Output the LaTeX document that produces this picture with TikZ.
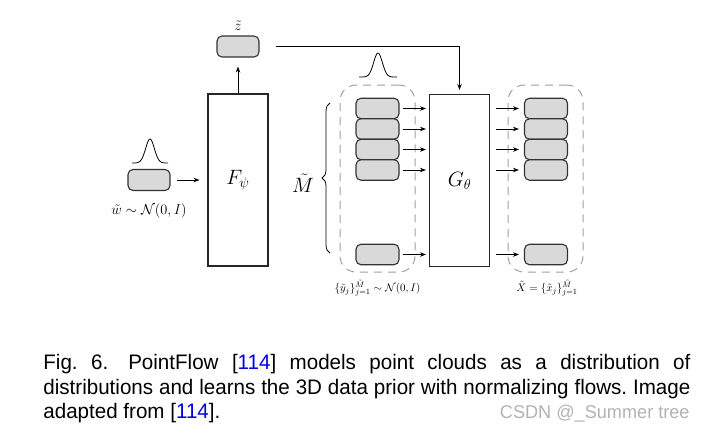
\documentclass[tikz,border=0pt]{standalone}
\usepackage{amsmath,amssymb}
\usepackage{fontspec}
\newfontfamily\capfont[FakeStretch=0.98]{Liberation Sans}
\usetikzlibrary{decorations.pathreplacing,positioning,arrows.meta}
\definecolor{cellgray}{gray}{0.85}
\definecolor{citeblue}{rgb}{0,0,0.9}
\frenchspacing

\tikzset{
  cell/.style={draw=black!80, fill=cellgray, line width=1.1pt, rounded corners=5pt,
    minimum width=43pt, minimum height=20.5pt, inner sep=0pt},
  netbox/.style={draw=black!85, line width=1.1pt, minimum width=60pt,
    minimum height=172pt, inner sep=0pt, font=\fontsize{20.5}{24}\selectfont},
  bag/.style={draw=gray!75, line width=1pt, dash pattern=on 8pt off 6pt,
    rounded corners=16pt, minimum width=75pt, minimum height=187pt},
  captext/.style={anchor=base west, inner sep=0pt, font=\capfont\fontsize{21}{24.5}\selectfont},
}

\begin{document}
\begin{tikzpicture}[>={Stealth[length=6pt,width=4.5pt]}, line width=0.8pt, x=1pt, y=-1pt]
  \useasboundingbox (0,0) rectangle (705,434);

  % networks
  \node[netbox] (F) at (238,180) {$F_\psi$};
  \node[netbox] (G) at (459.5,180.5) {$G_\theta$};

  % shape latent and its prior
  \node[cell, minimum width=42pt, minimum height=21pt] (wbox) at (149,180) {};
  \node[font=\fontsize{15.5}{17}\selectfont] (wlabel) at (149,211) {$\tilde w\sim\mathcal N(0,I)$};
  \draw plot[domain=-18:18, samples=61, smooth]
    ({150+\x},{163-24*exp(-(\x*\x)/38)});
  \draw[->, shorten <=6pt, shorten >=8pt] (wbox.east) -- (F.west);

  % transformed latent
  \node[cell, minimum width=42pt, minimum height=21pt] (zbox) at (238,46.5) {};
  \node[font=\fontsize{15}{17}\selectfont] (zlabel) at (238,26) {$\tilde z$};
  \draw[->, shorten >=9pt] (F.north) -- (zbox.south);
  \draw[->, shorten <=16pt, shorten >=4pt] (zbox.east) -| (G.north);

  % point sets (dashed bags)
  \node[bag] (ybag) at (377.5,178.5) {};
  \node[bag] (xbag) at (545.5,178.5) {};
  \draw plot[domain=-19:19, samples=61, smooth]
    ({378+\x},{77-24*exp(-(\x*\x)/38)});
  \draw[decorate, decoration={brace, amplitude=8pt}]
    (330,253) -- (330,103);
  \node[font=\fontsize{20.5}{24}\selectfont] (mlabel) at (303,183) {$\tilde M$};

  % points and flows
  \foreach \i/\yy in {1/108.5, 2/129, 3/149.5, 4/170, 5/254.5} {
    \node[cell] (y\i) at (377.5,\yy) {};
    \node[cell] (x\i) at (546,\yy) {};
    \draw[->, shorten <=3pt, shorten >=3pt] (y\i.east) -- (G.west |- y\i.east);
    \draw[->, shorten <=6pt, shorten >=5pt] (G.east |- x\i.west) -- (x\i.west);
  }

  \node[font=\fontsize{11}{13}\selectfont] (ylabel) at (377.5,288)
    {$\{\tilde y_j\}_{j=1}^{\tilde M}\sim\mathcal N(0,I)$};
  \node[font=\fontsize{11}{13}\selectfont] (xlabel) at (547,288)
    {$\tilde X=\{\tilde x_j\}_{j=1}^{\tilde M}$};

  % caption
  \node[captext] (cap1) at (43,369.5) {\makebox[647pt][s]{Fig.\ 6.\hspace{20pt}PointFlow
    [\textcolor{citeblue}{114}] models point clouds as a distribution of}};
  \node[captext] (cap2) at (43,394) {\makebox[647pt][s]{distributions and learns
    the 3D data prior with normalizing flows. Image}};
  \node[captext] (cap3) at (43,418.5) {adapted from [\textcolor{citeblue}{114}].};
  \node[anchor=base east, inner sep=0pt, font=\capfont\fontsize{18.5}{20}\selectfont,
    text=gray!60] (mark) at (690,418.5) {CSDN @\_Summer tree};

\end{tikzpicture}
\end{document}
